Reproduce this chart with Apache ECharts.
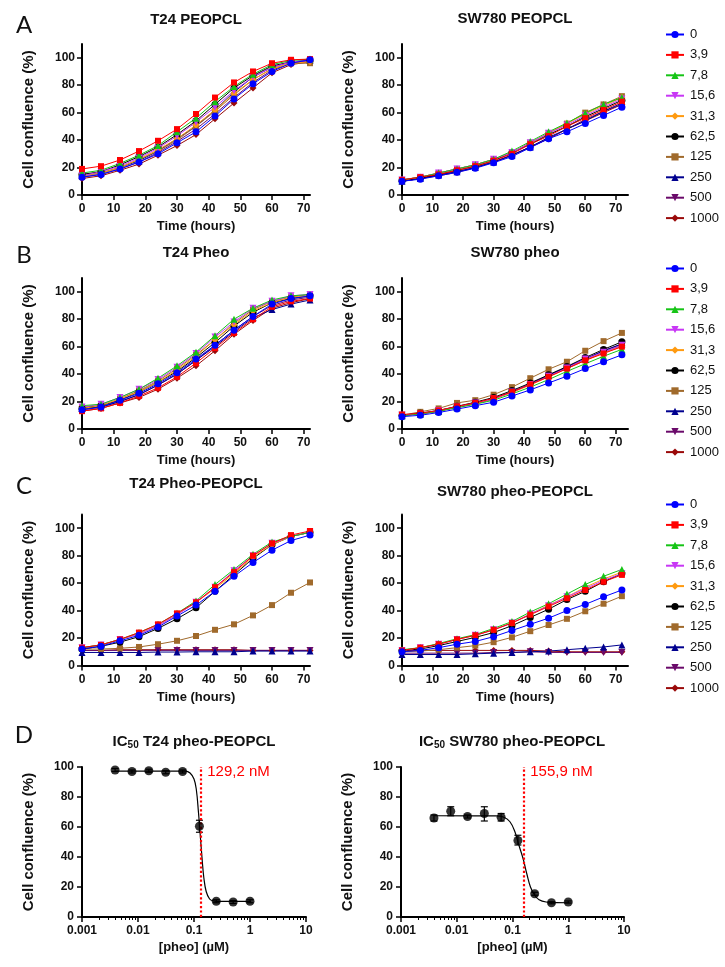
<!DOCTYPE html>
<html><head><meta charset="utf-8">
<script src="https://cdn.jsdelivr.net/npm/echarts@6/dist/echarts.min.js"></script>
<style>html,body{margin:0;padding:0;background:#fff}#c{width:725px;height:967px}</style>
</head><body><div id="c"></div>
<script>
// ---------- DATA ----------
const hours = [0,6,12,18,24,30,36,42,48,54,60,66,72];
const doses = ['0','3,9','7,8','15,6','31,3','62,5','125','250','500','1000'];

// Panel A left: T24 PEOPCL (one array per dose, same order as doses)
const t24Peopcl = [
  [13,15,19,24,30,38,46,57.5,70,81,90,96,98.5],
  [19,21,25.5,32,39.5,48,59,71,82,90,96,98.5,99],
  [16,18,23,29,36,46,56,68,79,88,95,98,99],
  [14,17,21,27,34,43,53,64,76,86,93,97,98],
  [14,16,20,26,33,41,51,62,74,84,92,96,97],
  [15,17,22,28,35,44,54,66,78,87,94,97,98],
  [15,16,20,26,32,40,50,61,73,84,92,96,96],
  [14,16,20,25,32,41,50,62,75,86,93,97,98],
  [13,15,19,24,31,39,48,59,71,82,91,96,97],
  [12,14,18,22.5,29,36,44,55.5,67,78,89,95,97]
];
// Panel A right: SW780 PEOPCL
const sw780Peopcl = [
  [10,11.5,14,16.5,19.5,23.5,28,34.5,41,46,52,58,64],
  [11,13,15,18,21,25,30,37,43,50,56,62,68],
  [11,13,16,19,22,26,32,39,46,52.5,59.5,66,71],
  [11,13,16,19,22,26,31,38,45,51,58,64,70],
  [11,13,16,19,22,26,31,38,45,52,59,65,71],
  [10.5,12.5,15,18,21,25,31,37,44,50,57,63,69],
  [11,13,16,19,22,26,31,38,45,52,60,66,72],
  [10,12,14.5,17,20,24,29,35,42,48,54,61,67],
  [10,12,14.5,17,20,24,29,35,41,48,55,61,66],
  [10,12,14,16.5,20,24,29,35,41,48,54,60,66]
];
// Panel B left: T24 Pheo
const t24Pheo = [
  [14,16,21,26,33,41,51,61,72,82,91,95,97],
  [13,15,19,24,30,38,48,59,70,80,89,93,95],
  [17,18,23,29,37,46,56,68,80,88,94,97,98],
  [16,18,23,29,36,45,55,67,78,88,93,97,98],
  [15,17,22,27,34,43,53,65,76,86,92,96,97],
  [15,17,21,27,34,42,52,63,75,85,92,95,97],
  [16,17,22,28,35,44,54,65,77,87,93,96,98],
  [15,16,20,25,32,40,50,60,71,81,87,91,94],
  [14,16,20,25,32,40,50,61,72,82,90,94,96],
  [13,15,19,23,29,37,46,57,69,79,88,92,95]
];
// Panel B right: SW780 pheo
const sw780Pheo = [
  [9,10,12,14.5,17,19.5,24,28.5,33.5,38.5,44,49,54],
  [10.5,11.5,13.5,16.5,19,22.5,27,32.5,38,44,50,55,60],
  [9.5,11,13,15.5,18,21,25.5,30.5,36,42,47.5,53,58],
  [10,11,13.5,16,19,22,27,32.5,38.5,44.5,51,56,61],
  [10,11,13,16,18.5,22,26.5,32,38,44,50,55.5,60],
  [10,11.5,13.5,16.5,19.5,23,28,33.5,39.5,45.5,52,58,63.5],
  [10,12.5,15,19,21,25,30.5,37,43.5,49,57,64,70],
  [10,11,13,16,18.5,22,27,32.5,39,45,51,57,62],
  [10,11,13.5,16,19,22.5,27,33,39,45,51,57,62],
  [10,11,13,16,18.5,22,27,32.5,38.5,44.5,50,56,61]
];
// Panel C left: T24 Pheo-PEOPCL
const t24PheoPeopcl = [
  [12,14,18,22,28,36,44,54,65,75,84,91,95],
  [13,15,19,24,30,38,46,57,68,80,89,95,98],
  [13,15,19,24,30,38,47,59,70,81,90,94,97],
  [13,15,19,23,29,37,46,57,69,80,89,94,97],
  [13,15,19,23,29,37,46,56,67,79,88,94,97],
  [12,14,17,21,27,34,42,54,66,78,88,94,97],
  [12,12,12.5,13.5,15.5,18,21.5,26,30,36.5,44,53,60.5],
  [9.5,9.5,9.5,9.5,9.8,9.8,10,10,10,10.5,10.5,10.5,10.5],
  [11,11,11,11,11,11,11,11,11,11,11,11,11],
  [11,11,11.5,11.5,11.5,11.5,11.5,11.5,11.5,11,11,11,11]
];
// Panel C right: SW780 pheo-PEOPCL
const sw780PheoPeopcl = [
  [10,11,13,15.5,17.5,21,25.5,30,34.5,40,44.5,50,55],
  [11,13,15.5,19,22,26,31,37,43,49,55,61,66],
  [11.5,13,16,19.5,22.5,27,32,39,45,52,59,65,70],
  [11,13,15.5,19,22,26,31,37.5,43.5,50,56,62,67],
  [11,13,15.5,19,22,26,31,37.5,44,50,57,63,68],
  [11,12,14.5,17.5,20.5,24,29,35,41,48,54,61,67],
  [10,10.5,11.5,13,14.5,17,20.5,25,29.5,34,39.5,45,50.5],
  [8,8,8,8,8.5,9,9.5,10,10.5,11.5,12.5,13.5,15],
  [9,9,9,9,9,9.5,9.5,10,9.5,9.5,9.5,9.5,9.5],
  [11,11,11,11,11,11,11,11,10.5,10,10,10,10]
];

// Panel D: IC50
const icConc = [0.0039,0.0078,0.0156,0.03125,0.0625,0.125,0.25,0.5,1];
const icT24Mean = [98,97,97.5,96.5,97,60.5,10.5,10,10.5];
const icT24Low  = [97,96,96.5,95.5,96,56.5,9.5,9,9.5];
const icT24High = [99,98,98.5,97.5,98,64.5,11.5,11,11.5];
const fitT24X = [0.004,0.07,0.085,0.1,0.11,0.12,0.129,0.14,0.15,0.165,0.19,0.22,0.3,1.05];
const fitT24Y = [97.3,97.3,96,92,85,70,55,38,26,17,12,10.8,10.4,10.4];
const ic50T24 = 0.1292;
const icSWMean = [66,70.5,67,69,66.5,51,15.5,9.5,10];
const icSWLow  = [64,67.5,66,64,64,48,14.5,8.8,9.3];
const icSWHigh = [68,73.5,68,73.5,69,54.5,16.5,10.2,10.7];
const fitSWX = [0.004,0.05,0.07,0.09,0.11,0.13,0.156,0.18,0.21,0.25,0.3,0.4,0.6,1.05];
const fitSWY = [67.5,67.4,66.5,63.5,57,48,38.5,29,20,14.5,11.5,10,9.6,9.5];
const ic50SW = 0.1559;
const yTicks = [0,20,40,60,80,100];
const xTicks = [0,10,20,30,40,50,60,70];

// ---------- STYLE ----------
const colors = ['#0000FF','#FF0000','#16C416','#C837F5','#FF9A10','#000000','#A06A2C','#00008F','#6A0A6A','#9A0A0A'];
const invTri = 'path://M0,0L10,0L5,9Z';
const symbols = ['circle','rect','triangle',invTri,'diamond','circle','rect','triangle',invTri,'diamond'];
const FONT = '"Liberation Sans", Arial, sans-serif';

const chart = echarts.init(document.getElementById('c'), null, {renderer:'canvas'});

const rowTops = [44, 278, 514.5];
const grids = [];
const xAxes = [];
const yAxes = [];
const series = [];
const legends = [];

function axisBase() {
  return {
    axisLine: {show:true, onZero:false, lineStyle:{color:'#000', width:2}},
    axisTick: {show:true, inside:false, length:5, lineStyle:{color:'#000', width:1.5}},
    splitLine: {show:false},
    axisLabel: {color:'#111', fontFamily:FONT, fontWeight:'bold', fontSize:12},
    nameTextStyle: {color:'#111', fontFamily:FONT, fontWeight:'bold', fontSize:13}
  };
}

function addTimePanel(left, width, top, xmax, data) {
  const gi = grids.length;
  grids.push({left:left, top:top, width:width, height:151});
  const xa = axisBase();
  Object.assign(xa, {type:'value', gridIndex:gi, min:0, max:xmax, interval:10,
    name:'Time (hours)', nameLocation:'middle', nameGap:25});
  xa.axisTick.customValues = xTicks; xa.axisLabel.customValues = xTicks; xa.axisLabel.margin = 8;
  xAxes.push(xa);
  const ya = axisBase();
  Object.assign(ya, {type:'value', gridIndex:gi, min:0, max:110, interval:20,
    name:'Cell confluence (%)', nameLocation:'middle', nameGap:46});
  ya.nameTextStyle.fontSize = 15;
  ya.axisTick.customValues = yTicks; ya.axisLabel.customValues = yTicks; ya.axisLabel.margin = 7;
  yAxes.push(ya);
  for (let k = doses.length - 1; k >= 0; k--) {
    series.push({
      type:'line', name:doses[k], xAxisIndex:gi, yAxisIndex:gi,
      data: hours.map((h,i)=>[h, data[k][i]]),
      symbol:symbols[k], symbolSize: (symbols[k]==='rect'?6:7),
      showSymbol:true,
      lineStyle:{color:colors[k], width:1},
      itemStyle:{color:colors[k]},
      emphasis:{disabled:true}, animation:false, z: 2
    });
  }
}

const panels = [[t24Peopcl, sw780Peopcl],[t24Pheo, sw780Pheo],[t24PheoPeopcl, sw780PheoPeopcl]];
panels.forEach((p, r) => {
  addTimePanel(82, 228, rowTops[r], 72, p[0]);
  addTimePanel(402, 226, rowTops[r], 74, p[1]);
  legends.push({
    orient:'vertical', left:660, top:[23, 257, 493][r],
    itemWidth:18, itemHeight:9, itemGap:7.4,
    data: doses.slice(),
    textStyle:{fontFamily:FONT, fontSize:13, color:'#111', padding:[0,0,0,1]},
    selectedMode:false
  });
});

function addIcPanel(left, width, mean, low, high, fx, fy, ic50, label) {
  const gi = grids.length;
  grids.push({left:left, top:767, width:width, height:150});
  const xa = axisBase();
  Object.assign(xa, {type:'log', logBase:10, gridIndex:gi, min:0.001, max:10,
    name:'[pheo] (µM)', nameLocation:'middle', nameGap:24,
    minorTick:{show:true, splitNumber:9, length:3, lineStyle:{color:'#000', width:1}}});
  xa.axisLabel.formatter = v => String(v);
  xAxes.push(xa);
  const ya = axisBase();
  Object.assign(ya, {type:'value', gridIndex:gi, min:0, max:100, interval:20,
    name:'Cell confluence (%)', nameLocation:'middle', nameGap:46});
  ya.nameTextStyle.fontSize = 15;
  yAxes.push(ya);
  series.push({
    type:'line', xAxisIndex:gi, yAxisIndex:gi, smooth:0.4, showSymbol:false,
    data: fx.map((x,i)=>[x, fy[i]]),
    lineStyle:{color:'#000', width:1.2}, animation:false, silent:true,
    markLine:{silent:true, symbol:'none', label:{show:false},
      lineStyle:{color:'#FF0000', type:'dotted', width:2.2},
      data:[{xAxis: ic50}]},
    markPoint:{silent:true, symbol:'circle', symbolSize:0,
      data:[{coord:[ic50, 97]}],
      label:{show:true, position:'right', distance:7, formatter:label,
        color:'#FF0000', fontFamily:FONT, fontSize:15}}
  });
  series.push({
    type:'custom', xAxisIndex:gi, yAxisIndex:gi, silent:true, animation:false,
    data: icConc.map((x,i)=>[x, low[i], high[i]]),
    renderItem: function(params, api) {
      const x = api.value(0);
      const p1 = api.coord([x, api.value(1)]);
      const p2 = api.coord([x, api.value(2)]);
      const c = 3.5;
      const st = {stroke:'#000', lineWidth:1.2};
      return {type:'group', children:[
        {type:'line', shape:{x1:p1[0], y1:p1[1], x2:p2[0], y2:p2[1]}, style:st},
        {type:'line', shape:{x1:p1[0]-c, y1:p1[1], x2:p1[0]+c, y2:p1[1]}, style:st},
        {type:'line', shape:{x1:p2[0]-c, y1:p2[1], x2:p2[0]+c, y2:p2[1]}, style:st}
      ]};
    }
  });
  series.push({
    type:'scatter', xAxisIndex:gi, yAxisIndex:gi, symbol:'circle', symbolSize:9,
    data: icConc.map((x,i)=>[x, mean[i]]),
    itemStyle:{color:'#000'}, animation:false, silent:true, z:5
  });
}
addIcPanel(82, 224, icT24Mean, icT24Low, icT24High, fitT24X, fitT24Y, ic50T24, '129,2 nM');
addIcPanel(401, 223, icSWMean, icSWLow, icSWHigh, fitSWX, fitSWY, ic50SW, '155,9 nM');

// Titles and panel letters
function richTitle(x, y, rest) {
  return {type:'text', x:x, y:y, style:{
    text:'{a|IC}{b|50}{a| ' + rest + '}', align:'center', verticalAlign:'middle',
    rich:{a:{fontFamily:FONT, fontWeight:'bold', fontSize:15, fill:'#111'},
          b:{fontFamily:FONT, fontWeight:'bold', fontSize:10, fill:'#111', padding:[6,0,0,0]}}}};
}
function mk(x, y, txt) {
  return {type:'text', x:x, y:y, style:{text:txt, fill:'#111', font:'bold 15px ' + FONT, align:'center', verticalAlign:'middle'}};
}
function letter(x, y, txt) {
  return {type:'text', x:x, y:y, style:{text:txt, fill:'#111', font:'normal 24px Lato, "Open Sans", sans-serif', align:'center', verticalAlign:'middle'}};
}
const graphics = [
  mk(196, 20, 'T24 PEOPCL'), mk(515, 19, 'SW780 PEOPCL'),
  mk(196, 253, 'T24 Pheo'), mk(515, 253, 'SW780 pheo'),
  mk(196, 484, 'T24 Pheo-PEOPCL'), mk(515, 492, 'SW780 pheo-PEOPCL'),
  richTitle(194, 742, 'T24 pheo-PEOPCL'), richTitle(512, 742, 'SW780 pheo-PEOPCL'),
  letter(24, 25, 'A'), letter(24, 255, 'B'), letter(24, 486, 'C'), letter(24, 735, 'D')
];

chart.setOption({
  animation:false,
  backgroundColor:'#fff',
  grid:grids, xAxis:xAxes, yAxis:yAxes, series:series, legend:legends,
  graphic:graphics
});
</script></body></html>
